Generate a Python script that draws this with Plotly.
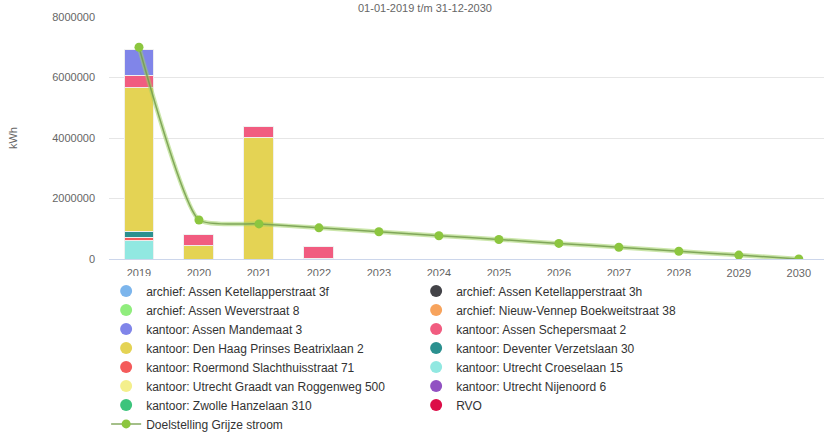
import plotly.graph_objects as go

years = ["2019", "2020", "2021", "2022", "2023", "2024", "2025", "2026", "2027", "2028", "2029", "2030"]

# Stacked bar series (kWh per year), in legend order
series_names = [
    "archief: Assen Ketellapperstraat 3f",
    "archief: Assen Ketellapperstraat 3h",
    "archief: Assen Weverstraat 8",
    "archief: Nieuw-Vennep Boekweitstraat 38",
    "kantoor: Assen Mandemaat 3",
    "kantoor: Assen Schepersmaat 2",
    "kantoor: Den Haag Prinses Beatrixlaan 2",
    "kantoor: Deventer Verzetslaan 30",
    "kantoor: Roermond Slachthuisstraat 71",
    "kantoor: Utrecht Croeselaan 15",
    "kantoor: Utrecht Graadt van Roggenweg 500",
    "kantoor: Utrecht Nijenoord 6",
    "kantoor: Zwolle Hanzelaan 310",
    "RVO",
]
series_colors = [
    "#7cb5ec", "#434348", "#90ed7d", "#f7a35c", "#8085e9", "#f15c80", "#e4d354",
    "#2b908f", "#f45b5b", "#91e8e1", "#f4ef8c", "#9152c2", "#3cc47c", "#dc0d48",
]

zeros = [0] * 12
ketellapper_3f = zeros
ketellapper_3h = zeros
weverstraat_8 = zeros
nieuw_vennep = zeros
mandemaat_3 = [860000, 0, 0, 0, 0, 0, 0, 0, 0, 0, 0, 0]
schepersmaat_2 = [420000, 360000, 350000, 370000, 0, 0, 0, 0, 0, 0, 0, 0]
den_haag = [4740000, 440000, 4020000, 30000, 0, 0, 0, 0, 0, 0, 0, 0]
deventer = [200000, 0, 0, 0, 0, 0, 0, 0, 0, 0, 0, 0]
roermond = [120000, 0, 0, 0, 0, 0, 0, 0, 0, 0, 0, 0]
croeselaan = [600000, 0, 0, 0, 0, 0, 0, 0, 0, 0, 0, 0]
graadt = zeros
nijenoord = zeros
zwolle = zeros
rvo = zeros

series_values = [
    ketellapper_3f, ketellapper_3h, weverstraat_8, nieuw_vennep, mandemaat_3,
    schepersmaat_2, den_haag, deventer, roermond, croeselaan, graadt, nijenoord,
    zwolle, rvo,
]

target_name = "Doelstelling Grijze stroom"
target_values = [7000000, 1290000, 1160000, 1030000, 900000, 770000, 645000,
                 516000, 387000, 258000, 129000, 0]

FONT = "Liberation Sans, Arial, Helvetica, sans-serif"

fig = go.Figure()

# Bars: first series on top of the stack -> add in reverse order
for name, color, vals in reversed(list(zip(series_names, series_colors, series_values))):
    fig.add_trace(go.Bar(
        x=years, y=vals, name=name, legendgroup=name, showlegend=False,
        marker=dict(color=color, line=dict(color="rgba(240,240,240,0.95)", width=1)),
        width=0.5,
    ))

# Legend entries (circles) in legend order
for name, color in zip(series_names, series_colors):
    fig.add_trace(go.Scatter(
        x=[None], y=[None], mode="markers", name=name, legendgroup=name,
        marker=dict(color=color, size=12),
    ))

# Target line: soft halo + thin line with markers
fig.add_trace(go.Scatter(
    x=years, y=target_values, mode="lines", showlegend=False,
    line=dict(color="rgba(160,210,100,0.55)", width=4.5, shape="spline", smoothing=0.5),
    hoverinfo="skip",
))
fig.add_trace(go.Scatter(
    x=years, y=target_values, mode="lines+markers", name=target_name,
    line=dict(color="rgba(120,160,80,0.9)", width=1.5, shape="spline", smoothing=0.5),
    marker=dict(color="#8cc63f", size=9),
))

fig.add_annotation(
    text="01-01-2019 t/m 31-12-2030", xref="paper", yref="paper", x=0.442, y=1,
    yanchor="bottom", yshift=1, showarrow=False,
    font=dict(size=11, color="#666666", family=FONT),
)

fig.update_layout(
    width=824, height=434,
    margin=dict(l=109, r=0, t=17, b=175, autoexpand=False),
    paper_bgcolor="white", plot_bgcolor="white",
    barmode="stack",
    font=dict(family=FONT, size=11, color="#666666"),
    showlegend=True,
    legend=dict(
        orientation="h", x=-0.004, xanchor="left", y=-0.072, yanchor="top",
        entrywidth=265, entrywidthmode="pixels",
        font=dict(size=12, color="#333333", family=FONT), traceorder="normal",
    ),
    xaxis=dict(
        type="category", range=[-0.5, 11.42], showgrid=False, showline=True,
        linecolor="#ccd6eb", linewidth=1, ticks="", tickfont=dict(size=11, color="#666666"),
        ticklabelstandoff=4,
    ),
    yaxis=dict(
        range=[0, 8000000], dtick=2000000, tickformat="d", gridcolor="#e6e6e6",
        zeroline=False, showline=False, ticks="", tickfont=dict(size=11, color="#666666"),
        title=dict(text="kWh", font=dict(size=11, color="#666666"), standoff=32),
        ticklabelstandoff=13,
    ),
)

fig.write_html("out.html", config={"displayModeBar": False},
               post_script="document.body.style.margin='0';")
